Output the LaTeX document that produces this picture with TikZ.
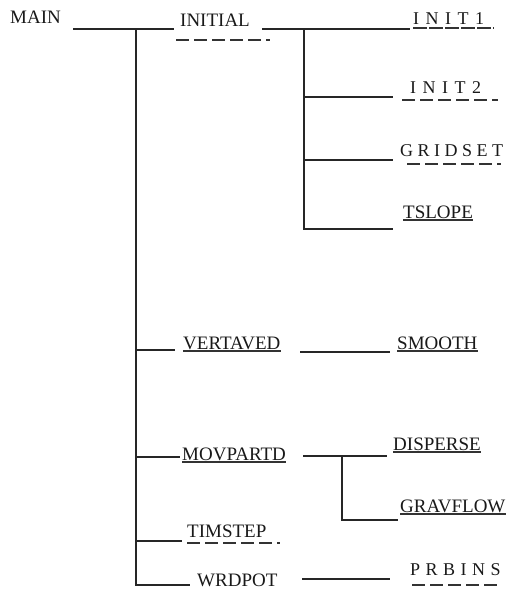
\documentclass[tikz,border=0pt]{standalone}
\usepackage{fontspec}
\setmainfont{Liberation Serif}
\begin{document}
\begin{tikzpicture}[x=1pt,y=-1pt,
  conn/.style={line width=2.4pt,color=black!85},
  lbl/.style={anchor=base west,inner sep=0pt,font=\fontsize{19}{20}\selectfont,text=black!90},
  slbl/.style={anchor=base west,inner sep=0pt,font=\fontsize{18}{20}\selectfont,text=black!90},
  ul/.style={line width=1.1pt,color=black!80},
  dul/.style={line width=2.4pt,color=black!80,dash pattern=on 13pt off 5pt},
  segul/.style={line width=2pt,color=black!80,dash pattern=on 14pt off 2pt}]
\useasboundingbox (0,0) rectangle (514,591);
\newcommand\kk{\kern6.5pt}
% labels
\node[lbl] (MAIN) at (10,24) {MAIN};
\node[lbl] (INITIAL) at (180,27) {INITIAL};
\node[slbl] (INIT1) at (413,25) {I\kk N\kk I\kk T\kk 1};
\node[slbl] (INIT2) at (410,94) {I\kk N\kk I\kk T\kk 2};
\node[slbl] (GRIDSET) at (400,156) {G\kern4.5pt R\kern4.5pt I\kern4.5pt D\kern4.5pt S\kern4.5pt E\kern4.5pt T};
\node[lbl] (TSLOPE) at (403,218) {TSLOPE};
\node[lbl] (VERTAVED) at (183,349) {VERTAVED};
\node[lbl] (SMOOTH) at (397,349) {SMOOTH};
\node[lbl] (MOVPARTD) at (182,460) {MOVPARTD};
\node[lbl] (DISPERSE) at (393,450) {DISPERSE};
\node[lbl] (GRAVFLOW) at (400,512) {GRAVFLOW};
\node[lbl] (TIMSTEP) at (187,537) {TIMSTEP};
\node[lbl] (WRDPOT) at (197,586.5) {WRDPOT};
\node[slbl] (PRBINS) at (410,575) {P\kern5.5pt R\kern5.5pt B\kern5.5pt I\kern5.5pt N\kern5.5pt S};
% underlines
\draw[dul] (176,40) -- (270,40);
\draw[segul] (413,28) -- (494,28);
\draw[dul] (402,100) -- (498,100);
\draw[dul] (407,164) -- (501,164);
\draw[ul] ([yshift=-2pt]TSLOPE.base west) -- ([yshift=-2pt]TSLOPE.base east);
\draw[ul] ([yshift=-2pt]VERTAVED.base west) -- ([yshift=-2pt]VERTAVED.base east);
\draw[ul] ([yshift=-2pt]SMOOTH.base west) -- ([yshift=-2pt]SMOOTH.base east);
\draw[ul] ([yshift=-2pt]MOVPARTD.base west) -- ([yshift=-2pt]MOVPARTD.base east);
\draw[ul] ([yshift=-2pt]DISPERSE.base west) -- ([yshift=-2pt]DISPERSE.base east);
\draw[ul] ([yshift=-2pt]GRAVFLOW.base west) -- ([yshift=-2pt]GRAVFLOW.base east);
\draw[dul] (187,543) -- (280,543);
\draw[dul] (412,585) -- (500,585);
% junction coordinates
\coordinate (m1) at (73,29);
\coordinate (t0) at (136,29);
\coordinate (i0) at (174,29);
\coordinate (tV) at (136,350);
\coordinate (tM) at (136,457);
\coordinate (tT) at (136,541);
\coordinate (tW) at (136,585);
\coordinate (s0) at (262,29);
\coordinate (s1) at (304,29);
\coordinate (s1e) at (410,29);
\coordinate (s2) at (304,97);
\coordinate (s3) at (304,160);
\coordinate (s4) at (304,229);
\coordinate (d0) at (303,456);
\coordinate (d1) at (342,456);
\coordinate (d2) at (342,520);
% connectors
\draw[conn] (m1) -- (i0);
\draw[conn] (t0) -- (tW) -- (190,585);
\draw[conn] (s0) -- (s1e);
\draw[conn] (s1) -- (s4) -- (393,229);
\draw[conn] (s2) -- (393,97);
\draw[conn] (s3) -- (393,160);
\draw[conn] (tV) -- (175,350);
\draw[conn] (300,352) -- (390,352);
\draw[conn] (tM) -- (180,457);
\draw[conn] (d0) -- (387,456);
\draw[conn] (d1) -- (d2) -- (398,520);
\draw[conn] (tT) -- (182,541);
\draw[conn] (302,579) -- (390,579);
\end{tikzpicture}
\end{document}
